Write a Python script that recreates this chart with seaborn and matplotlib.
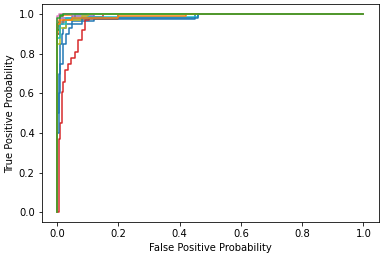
# ROC curves, one per class (one-vs-rest)
import matplotlib
matplotlib.use('Agg')
import matplotlib.pyplot as plt
import seaborn as sns

# false positive / true positive rates, one pair per class
fpr_0 = [0, 0, 0.005, 0.005, 0.01, 0.01, 0.015, 0.015, 0.02, 0.02, 0.03, 0.03, 0.05, 0.05, 0.12, 0.12, 0.45, 0.45, 1]
tpr_0 = [0, 0.5, 0.5, 0.7, 0.7, 0.85, 0.85, 0.9, 0.9, 0.93, 0.93, 0.95, 0.95, 0.965, 0.965, 0.975, 0.975, 1, 1]
fpr_1 = [0, 0, 0.005, 0.005, 0.01, 0.01, 0.02, 0.02, 0.05, 0.05, 1]
tpr_1 = [0, 0.9, 0.9, 0.97, 0.97, 0.99, 0.99, 0.995, 0.995, 1, 1]
fpr_2 = [0, 0, 0.005, 0.005, 0.01, 0.01, 0.02, 0.02, 1]
tpr_2 = [0, 0.92, 0.92, 0.96, 0.96, 0.99, 0.99, 1, 1]
fpr_3 = [0, 0.005, 0.005, 0.01, 0.01, 0.015, 0.015, 0.02, 0.02, 0.025, 0.025, 0.035, 0.035, 0.045, 0.045,
         0.06, 0.06, 0.07, 0.07, 0.08, 0.08, 0.09, 0.09, 0.105, 0.105, 0.15, 0.15, 1]
tpr_3 = [0, 0, 0.37, 0.37, 0.45, 0.45, 0.61, 0.61, 0.66, 0.66, 0.72, 0.72, 0.75, 0.75, 0.777,
         0.777, 0.81, 0.81, 0.87, 0.87, 0.92, 0.92, 0.97, 0.97, 0.984, 0.984, 1, 1]
fpr_4 = [0, 0, 0.01, 0.01, 0.05, 0.05, 0.12, 0.12, 1]
tpr_4 = [0, 0.95, 0.95, 0.98, 0.98, 0.99, 0.99, 1, 1]
fpr_5 = [0, 0, 0.01, 0.01, 0.02, 0.02, 0.05, 0.05, 0.2, 0.2, 1]
tpr_5 = [0, 0.9, 0.9, 0.95, 0.95, 0.97, 0.97, 0.975, 0.975, 1, 1]
fpr_6 = [0, 0, 0.005, 0.005, 1]
tpr_6 = [0, 0.99, 0.99, 1, 1]
fpr_7 = [0, 0, 0.01, 0.01, 0.03, 0.03, 0.06, 0.06, 1]
tpr_7 = [0, 0.93, 0.93, 0.96, 0.96, 0.975, 0.975, 1, 1]
fpr_8 = [0, 0, 0.01, 0.01, 0.03, 0.03, 0.08, 0.08, 0.1, 0.1, 1]
tpr_8 = [0, 0.85, 0.85, 0.93, 0.93, 0.97, 0.97, 0.99, 0.99, 1, 1]
fpr_9 = [0, 0, 0.01, 0.01, 0.03, 0.03, 0.1, 0.1, 0.46, 0.46, 1]
tpr_9 = [0, 0.88, 0.88, 0.95, 0.95, 0.98, 0.98, 0.988, 0.988, 1, 1]
fpr_10 = [0, 0, 0.005, 0.005, 0.01, 0.01, 0.02, 0.02, 0.03, 0.03, 0.04, 0.04, 0.05, 0.05, 0.08, 0.08, 0.46, 0.46, 1]
tpr_10 = [0, 0.4, 0.4, 0.6, 0.6, 0.75, 0.75, 0.85, 0.85, 0.9, 0.9, 0.93, 0.93, 0.95, 0.95, 0.98, 0.98, 1, 1]
fpr_11 = [0, 0, 0.01, 0.01, 0.05, 0.05, 0.2, 0.2, 0.42, 0.42, 1]
tpr_11 = [0, 0.95, 0.95, 0.97, 0.97, 0.98, 0.98, 0.99, 0.99, 1, 1]
fpr_12 = [0, 0, 0.01, 0.01, 0.02, 0.02, 1]
tpr_12 = [0, 0.98, 0.98, 0.995, 0.995, 1, 1]

fprs = [fpr_0, fpr_1, fpr_2, fpr_3, fpr_4, fpr_5, fpr_6, fpr_7, fpr_8, fpr_9, fpr_10, fpr_11, fpr_12]
tprs = [tpr_0, tpr_1, tpr_2, tpr_3, tpr_4, tpr_5, tpr_6, tpr_7, tpr_8, tpr_9, tpr_10, tpr_11, tpr_12]

colors = sns.color_palette('tab10')

fig = plt.figure(figsize=(382 / 72, 255 / 72), dpi=72)
ax = fig.add_axes([41.7 / 382, (255 - 222.3) / 255, (378.8 - 41.7) / 382, (222.3 - 4.3) / 255])

for i in range(len(fprs)):
    sns.lineplot(x=fprs[i], y=tprs[i], estimator=None, sort=False, color=colors[i % 10], linewidth=1.5, ax=ax)

ax.set_xlim(-0.05, 1.05)
ax.set_ylim(-0.05, 1.05)
ax.set_xlabel('False Positive Probability')
ax.set_ylabel('True Positive Probability')

fig.savefig('out.png', dpi=72)
